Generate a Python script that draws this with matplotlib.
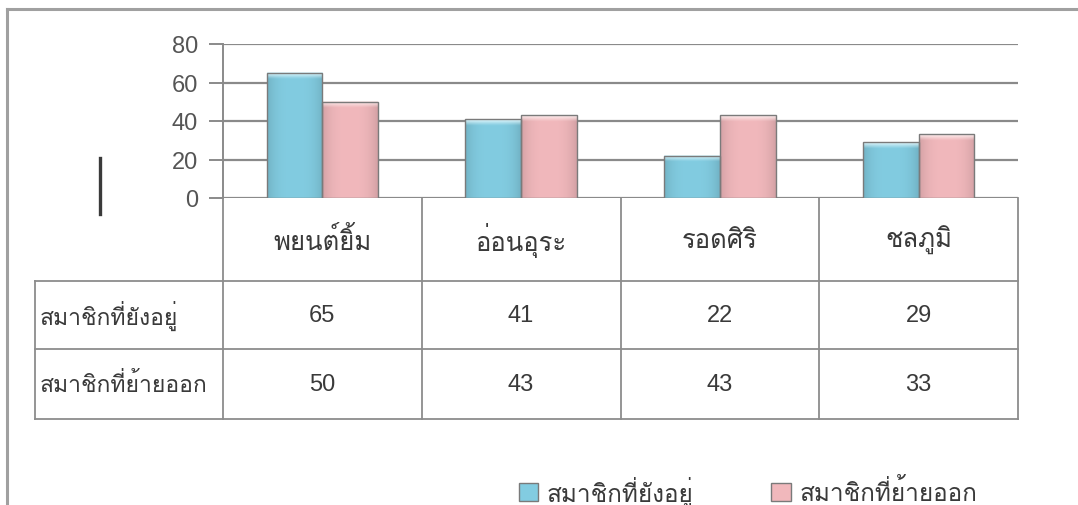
import numpy as np
import matplotlib
matplotlib.use("Agg")
import matplotlib.pyplot as plt
from matplotlib.colors import to_rgb
from matplotlib.patches import Patch

# ข้อมูลสมาชิกแยกตามสาย
categories = ["พยนต์ยิ้ม", "อ่อนอุระ", "รอดศิริ", "ชลภูมิ"]
series_names = ["สมาชิกที่ยังอยู่", "สมาชิกที่ย้ายออก"]
still_members = [65, 41, 22, 29]
moved_out = [50, 43, 43, 33]
y_ticks = [0, 20, 40, 60, 80]

THAI = ["Loma", "Sarabun", "DejaVu Sans"]
plt.rcParams["font.family"] = ["Liberation Sans", "Loma", "DejaVu Sans"]

W, H = 1078, 506
fig = plt.figure(figsize=(W / 100, H / 100), dpi=100)
fig.patch.set_facecolor("white")

# พื้นที่วาดทั้งภาพเป็นพิกเซล ใช้สำหรับกรอบและตาราง
bg = fig.add_axes([0, 0, 1, 1])
bg.set_xlim(0, W)
bg.set_ylim(H, 0)
bg.axis("off")

grid_c = "#8a8a8a"
bg.plot([7, W], [10, 10], color="#a0a0a0", lw=2.2)
bg.plot([7, 7], [10, H], color="#a0a0a0", lw=2.2)
bg.plot([100, 100], [159, 215], color="#3a3a3a", lw=2.4)

# กราฟแท่ง
x0, x1 = 223, 1018
y_top, y_zero = 45, 199
ax = fig.add_axes([x0 / W, (H - y_zero) / H, (x1 - x0) / W, (y_zero - y_top) / H])
ax.set_facecolor("none")
for s in ["top", "right", "bottom"]:
    ax.spines[s].set_visible(False)
ax.spines["left"].set_color(grid_c)
ax.spines["left"].set_linewidth(1.4)
ax.set_xticks([])
ax.set_yticks(y_ticks)
ax.tick_params(axis="y", length=10, width=1.4, color=grid_c, labelsize=17,
               labelcolor="#555555", pad=8)
ax.yaxis.grid(True, color=grid_c, lw=1.6)
ax.set_axisbelow(True)


def shaded_bar(xc, width, value, base, cap):
    base = np.array(to_rgb(base))
    cap = np.array(to_rgb(cap))
    n = 100
    # ไล่เฉดแนวนอนให้ขอบแท่งเข้มขึ้นเล็กน้อย
    u = np.linspace(-1, 1, 40)
    shade = 1 - 0.12 * np.abs(u) ** 3
    img = np.ones((n, 40, 3)) * base * shade[None, :, None]
    # ส่วนหัวแท่งสว่างแบบนูน
    cap_px = 6.0 / (y_zero - y_top) * 80
    rows = np.linspace(value, 0, n)
    t = np.clip((rows - (value - cap_px)) / cap_px, 0, 1)[:, None, None]
    img = img * (1 - t) + cap * t
    ax.imshow(np.clip(img, 0, 1), extent=(xc - width / 2, xc + width / 2, 0, value),
              aspect="auto", zorder=3, interpolation="bilinear")
    ax.bar(xc, value, width, fill=False, edgecolor="#7a7a7a", lw=1.0, zorder=4)


bw = 0.28
xs = np.arange(len(categories)) + 0.5
for xc, a, b in zip(xs, still_members, moved_out):
    shaded_bar(xc - bw / 2, bw, a, "#82cce1", "#e2f7fc")
    shaded_bar(xc + bw / 2, bw, b, "#f1b8bc", "#fdeeee")
ax.set_xlim(0, len(categories))
ax.set_ylim(0, 80)

# ตารางข้อมูลใต้กราฟ
col_edges = np.linspace(x0, x1, len(categories) + 1)
row_edges = [199, 282, 350, 420]
label_left = 35
line_kw = dict(color="#8c8c8c", lw=1.3)
for xe in col_edges:
    bg.plot([xe, xe], [row_edges[0], row_edges[-1]], **line_kw)
bg.plot([label_left, label_left], [row_edges[1], row_edges[-1]], **line_kw)
for ye in row_edges[1:]:
    bg.plot([label_left, x1], [ye, ye], **line_kw)

txt_c = "#3a3a3a"
for i, name in enumerate(categories):
    cx = (col_edges[i] + col_edges[i + 1]) / 2
    bg.text(cx, (row_edges[0] + row_edges[1]) / 2, name, ha="center", va="center",
            fontsize=18.5, color=txt_c, family=THAI)

for r, (label, vals) in enumerate(zip(series_names, [still_members, moved_out])):
    cy = (row_edges[r + 1] + row_edges[r + 2]) / 2
    bg.text(label_left + 5, cy, label, ha="left", va="center", fontsize=16.5,
            color=txt_c, family=THAI)
    for i, v in enumerate(vals):
        cx = (col_edges[i] + col_edges[i + 1]) / 2
        bg.text(cx, cy, str(v), ha="center", va="center", fontsize=17, color=txt_c)

# คำอธิบายสัญลักษณ์
handles = [Patch(facecolor="#82cce1", edgecolor="#7a7a7a"),
           Patch(facecolor="#f1b8bc", edgecolor="#7a7a7a")]
leg = fig.legend(handles, series_names, loc="center", ncol=2, frameon=False,
                 bbox_to_anchor=(748 / W, 14 / H), handlelength=0.8, handleheight=0.8,
                 columnspacing=3.2, handletextpad=0.35,
                 prop={"family": THAI, "size": 17.5})
for t in leg.get_texts():
    t.set_color(txt_c)

fig.savefig("out.png", dpi=100)
